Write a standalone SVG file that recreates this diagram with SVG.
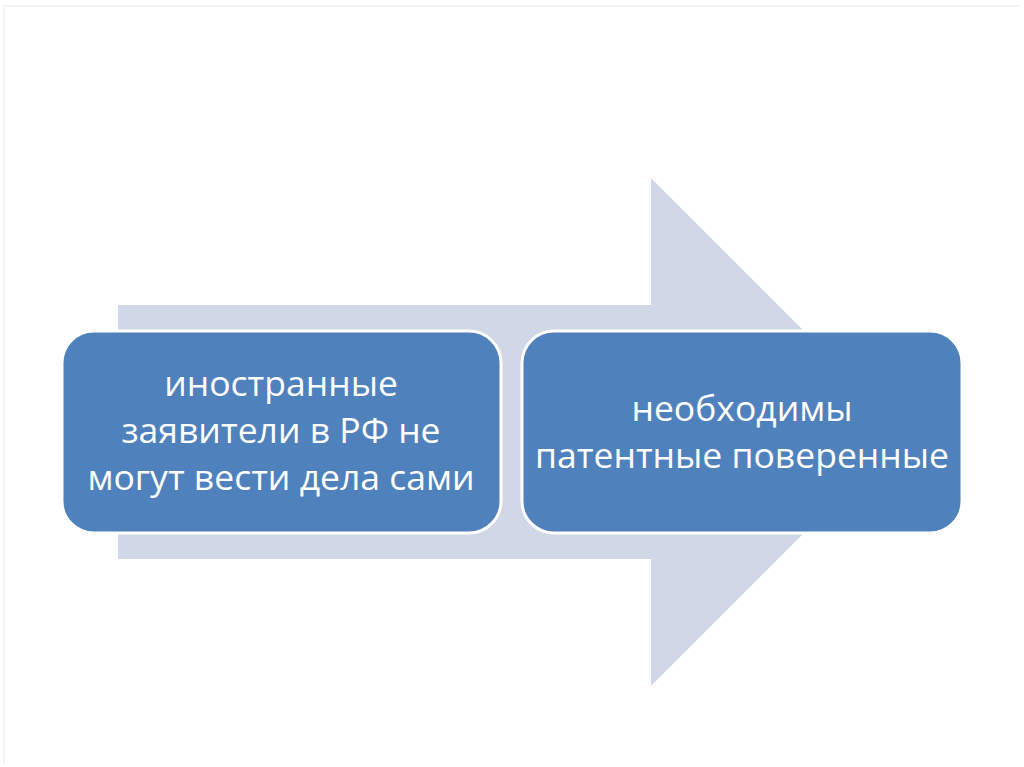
<svg xmlns="http://www.w3.org/2000/svg" width="1024" height="767" viewBox="0 0 1024 767">
<defs>
<style>
.box{fill:#4F81BD;stroke:#FFFFFF;stroke-width:3}
.t{font-family:"Open Sans","Liberation Sans",sans-serif;font-size:35.5px;fill:#FFFFFF;text-anchor:middle}
</style>
</defs>
<rect width="1024" height="767" fill="#FFFFFF"/>
<path d="M4,764 L4,6 L1020,6" fill="none" stroke="#F3F3F3" stroke-width="2"/>
<g id="connectors">
<polygon points="118,305 651,305 651,178 905,432 651,686 651,559 118,559" fill="#D0D7E7"/>
</g>
<g id="node1">
<rect class="box" x="62" y="331" width="439" height="202" rx="32"/>
<text class="t" x="281" y="396">иностранные</text>
<text class="t" x="281" y="443">заявители в РФ не</text>
<text class="t" x="281" y="490">могут вести дела сами</text>
</g>
<g id="node2">
<rect class="box" x="522" y="331" width="440" height="202" rx="32"/>
<text class="t" x="742" y="421">необходимы</text>
<text class="t" x="742" y="468">патентные поверенные</text>
</g>
</svg>
